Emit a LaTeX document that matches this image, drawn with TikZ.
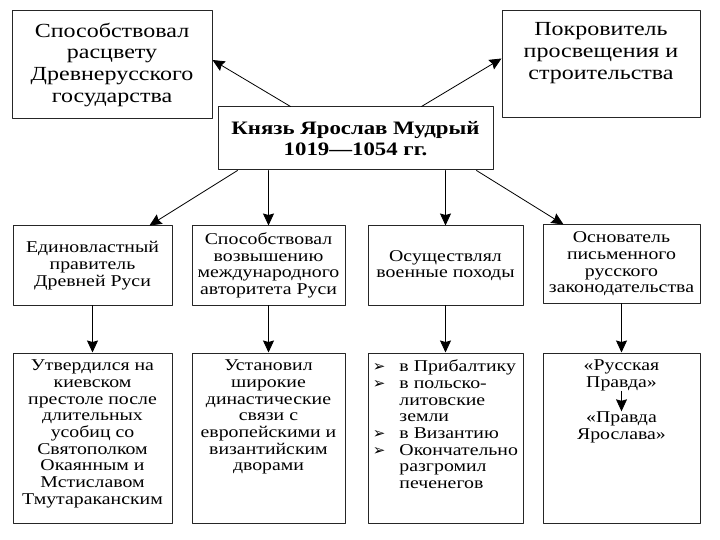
\documentclass[tikz,border=0pt]{standalone}
\usepackage{fontspec}
\setmainfont{Liberation Serif}[FakeStretch=1.2]
\newfontfamily\dingfont{DejaVu Sans}
\usetikzlibrary{arrows.meta}
\usetikzlibrary{positioning}
\tikzstyle{every path}=[line width=0.8pt,line cap=round,line join=round]
\tikzstyle{box}=[draw=black!85,line width=1pt,inner sep=0pt]
\tikzstyle{txtbig}=[align=center,inner sep=0pt,font=\fontsize{20}{21.7}\selectfont]
\tikzstyle{txtbold}=[align=center,inner sep=0pt,font=\bfseries\fontsize{19}{21.7}\selectfont]
\tikzstyle{txtmid}=[align=center,inner sep=0pt,font=\fontsize{16.5}{16.7}\selectfont]
\tikzstyle{txtlow}=[align=center,inner sep=0pt,font=\fontsize{16.5}{16.7}\selectfont]
\newcommand{\bul}{{\dingfont\fontsize{15}{16.7}\selectfont ➢}}

\begin{document}
\begin{tikzpicture}[x=1pt,y=-1pt]
		\tikzstyle{arrow} = [-{Stealth[length=12pt, width=11pt, inset=1.5pt]}]
		\useasboundingbox (0,0) rectangle (720,540);
		
		% top
		\node[box,minimum width=200pt,minimum height=108pt] (tl) at (112,65) {};
		\node[box,minimum width=198pt,minimum height=107pt] (tr) at (601,64.5) {};
		\node[box,minimum width=275pt,minimum height=63pt] (kn) at (355.5,138.5) {};
		\node[txtbig,below=12pt of tl.north] (tlt) {Способствовал\\расцвету\\Древнерусского\\государства};
		\node[txtbig,below=12pt of tr.north] (trt) {Покровитель\\просвещения и\\строительства};
		\node[txtbold] (knt) at (kn) {Князь Ярослав Мудрый\\1019—1054 гг.};
		
		% middle
		\node[box,minimum width=159pt,minimum height=79pt] (m1) at (92.5,265.5) {};
		\node[box,minimum width=153pt,minimum height=79pt] (m2) at (268.5,265.5) {};
		\node[box,minimum width=155pt,minimum height=79pt] (m3) at (445.5,265.5) {};
		\node[box,minimum width=157pt,minimum height=78pt] (m4) at (621.5,264) {};
		\node[txtmid] (m1t) at (m1) {Единовластный\\правитель\\Древней Руси};
		\node[txtmid] (m2t) at (m2) {Способствовал\\возвышению\\международного\\авторитета Руси};
		\node[txtmid] (m3t) at (m3) {Осуществлял\\военные походы};
		\node[txtmid] (m4t) at (m4) {Основатель\\письменного\\русского\\законодательства};
		
		% bottom
		\node[box,minimum width=159pt,minimum height=170pt] (b1) at (92.5,438) {};
		\node[box,minimum width=153pt,minimum height=170pt] (b2) at (268.5,438) {};
		\node[box,minimum width=155pt,minimum height=170pt] (b3) at (445.5,438) {};
		\node[box,minimum width=157pt,minimum height=170pt] (b4) at (621.5,438) {};
		\node[txtlow,below=7pt of b1.north] (b1t) {Утвердился на\\киевском\\престоле после\\длительных\\усобиц со\\Святополком\\Окаянным и\\Мстиславом\\Тмутараканским};
		\node[txtlow,below=7pt of b2.north] (b2t) {Установил\\широкие\\династические\\связи с\\европейскими и\\византийским\\дворами};
		\node[txtlow,below right=7pt and 5pt of b3.north west] (b3t) {%
			\begin{tabular}{@{}l@{\hspace{14pt}}l@{}}
				\bul & в Прибалтику\\
				\bul & в польско-\\
				& литовские\\
				& земли\\
				\bul & в Византию\\
				\bul & Окончательно\\
				& разгромил\\
				& печенегов
			\end{tabular}};
		\node[txtlow,below=7pt of b4.north] (rp1) {«Русская\\Правда»};
		\node[txtlow,below=20pt of rp1] (rp2) {«Правда\\Ярослава»};
		
		% arrows
		\draw[arrow] ([xshift=-65pt]kn.north) -- ([yshift=5pt]tl.east);
		\draw[arrow] ([xshift=66pt]kn.north) -- ([yshift=6pt]tr.west);
		\draw[arrow] ([xshift=-118pt]kn.south) -- ([xshift=57pt]m1.north);
		\draw[arrow] (kn.south -| m2) -- (m2.north);
		\draw[arrow] (kn.south -| m3) -- (m3.north);
		\draw[arrow] ([xshift=121pt]kn.south) -- ([xshift=-58pt]m4.north);
		\foreach \i in {1,2,3,4}
			\draw[arrow] (m\i.south) -- (b\i.north);
		\draw[arrow] (rp1.south) -- (rp2.north);
		
	\end{tikzpicture}
\end{document}
